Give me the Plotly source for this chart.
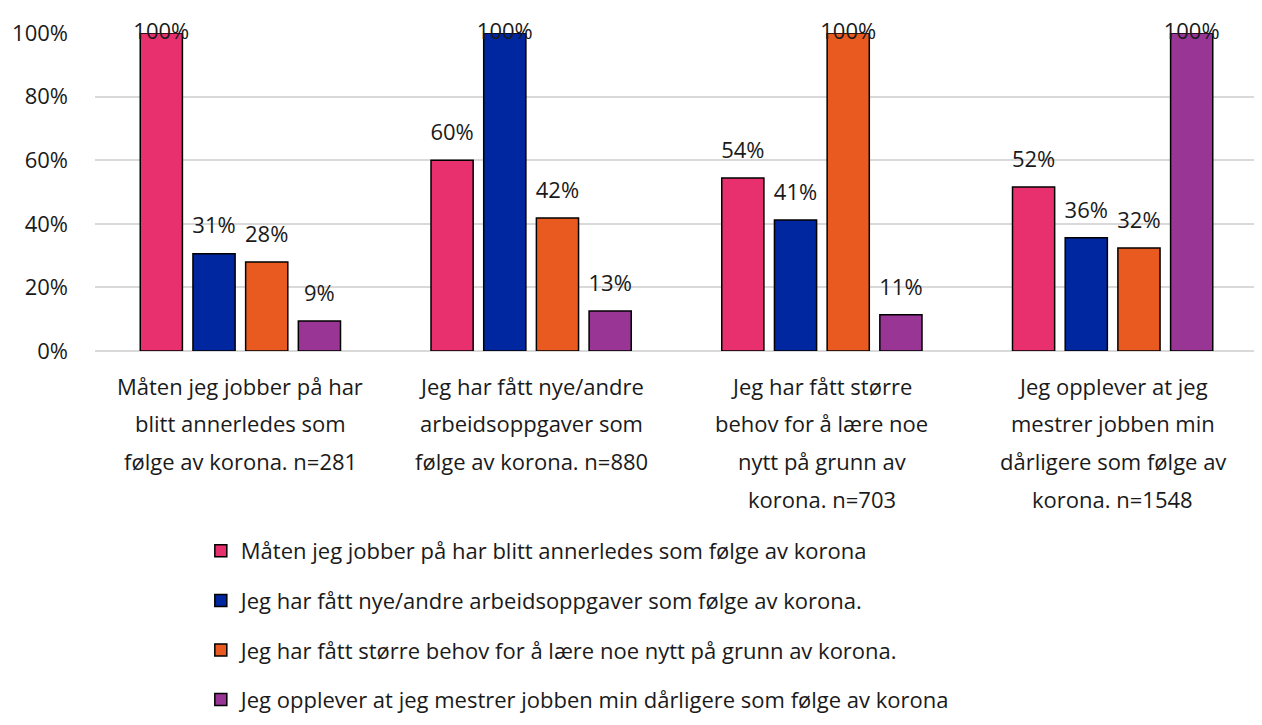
import plotly.graph_objects as go

categories = [
    "Måten jeg jobber på har<br>blitt annerledes som<br>følge av korona. n=281",
    "Jeg har fått nye/andre<br>arbeidsoppgaver som<br>følge av korona. n=880",
    "Jeg har fått større<br>behov for å lære noe<br>nytt på grunn av<br>korona. n=703",
    "Jeg opplever at jeg<br>mestrer jobben min<br>dårligere som følge av<br>korona. n=1548",
]
series_names = [
    "Måten jeg jobber på har blitt annerledes som følge av korona",
    "Jeg har fått nye/andre arbeidsoppgaver som følge av korona.",
    "Jeg har fått større behov for å lære noe nytt på grunn av korona.",
    "Jeg opplever at jeg mestrer jobben min dårligere som følge av korona",
]
s1 = [1.00, 0.60, 0.544, 0.516]
s2 = [0.306, 1.00, 0.412, 0.356]
s3 = [0.28, 0.418, 1.00, 0.324]
s4 = [0.094, 0.126, 0.114, 1.00]
colors = ["#E8306F", "#0026A0", "#E95A20", "#983595"]

FONT = "Open Sans, Lato, sans-serif"
FS = 22
TXT = "#1a1a1a"

# page body has an 8px margin: figure is sized so it ends at the window edge
W, H = 1254, 717
ML, MR, MT, MB = 85, 4, 25, 374
PLOT_H = H - MT - MB
PLOT_W = W - ML - MR
Y_MAX = 1.0

fig = go.Figure()
for i, (name, vals, col) in enumerate(zip(series_names, [s1, s2, s3, s4], colors)):
    fig.add_trace(go.Bar(
        x=categories, y=vals, name=name, offsetgroup=f"g{i}",
        marker=dict(color=col, line=dict(color="#000000", width=1.5)),
        legendgroup=f"g{i}", hoverinfo="name+y",
    ))
# data labels: above each bar (offset by an invisible marker);
# labels at the axis maximum are kept inside the plot
for i, vals in enumerate([s1, s2, s3, s4]):
    fig.add_trace(go.Scatter(
        x=categories, y=vals, offsetgroup=f"g{i}", mode="markers+text",
        texttemplate="%{y:.0%}",
        textposition=["middle center" if v >= Y_MAX else "top center" for v in vals],
        marker=dict(size=22, color="rgba(0,0,0,0)", line=dict(width=0)),
        textfont=dict(family=FONT, size=FS, color=TXT),
        showlegend=False, hoverinfo="skip", cliponaxis=False,
    ))

# category labels with wider line spacing (as in reference)
LINE_PX = 37.5
for cat in categories:
    lines = cat.split("<br>")
    for j, ln in enumerate(lines):
        fig.add_annotation(
            x=cat, xref="x", yref="paper",
            y=-(35 + j * LINE_PX) / PLOT_H, yanchor="middle",
            text=ln, showarrow=False,
            font=dict(family=FONT, size=FS, color=TXT),
        )

fig.update_layout(
    width=W, height=H,
    margin=dict(l=ML, r=MR, t=MT, b=MB),
    paper_bgcolor="white", plot_bgcolor="white",
    barmode="group", bargap=0.275, bargroupgap=0.2,
    scattermode="group", scattergap=0.275,
    font=dict(family=FONT, size=FS, color=TXT),
    showlegend=True,
    legend=dict(
        orientation="v",
        x=(191 - ML) / PLOT_W, xanchor="left",
        y=-(522 - (H - MB)) / PLOT_H, yanchor="top",
        font=dict(family=FONT, size=FS, color=TXT),
        tracegroupgap=18, itemwidth=30, bgcolor="rgba(0,0,0,0)",
    ),
    xaxis=dict(showticklabels=False, showline=False, ticks="", showgrid=False),
    yaxis=dict(
        range=[0, Y_MAX], tickvals=[0, 0.2, 0.4, 0.6, 0.8, 1.0], tickformat=".0%",
        showgrid=True, gridcolor="#d9d9d9", gridwidth=1.5, zeroline=True,
        zerolinecolor="#d9d9d9", zerolinewidth=1.5, showline=False,
        ticks="", ticklabelstandoff=26,
        tickfont=dict(family=FONT, size=FS, color=TXT),
    ),
)

fig.write_html("out.html")
